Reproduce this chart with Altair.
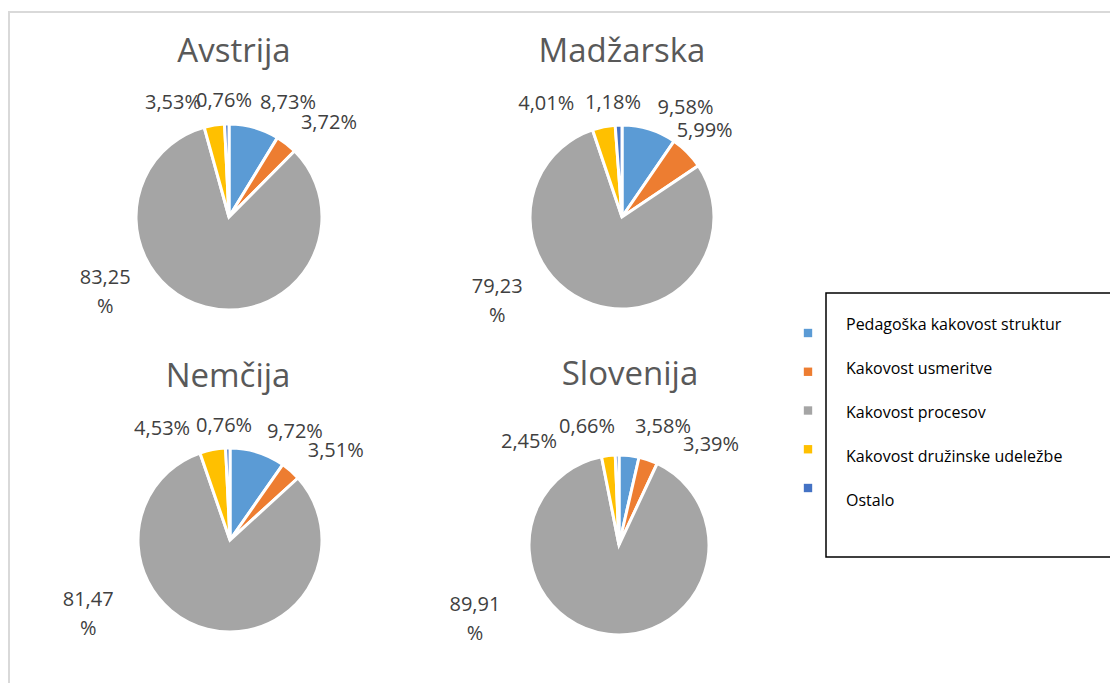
import math
import altair as alt
import pandas as pd

# ---------------- data ----------------
countries = ["Avstrija", "Madžarska", "Nemčija", "Slovenija"]
categories = [
    "Pedagoška kakovost struktur",
    "Kakovost usmeritve",
    "Kakovost procesov",
    "Kakovost družinske udeležbe",
    "Ostalo",
]
avstrija = [8.73, 3.72, 83.25, 3.53, 0.76]
madzarska = [9.58, 5.99, 79.23, 4.01, 1.18]
nemcija = [9.72, 3.51, 81.47, 4.53, 0.76]
slovenija = [3.58, 3.39, 89.91, 2.45, 0.66]
values = {"Avstrija": avstrija, "Madžarska": madzarska, "Nemčija": nemcija, "Slovenija": slovenija}

# ---------------- style / layout ----------------
colors = ["#5B9BD5", "#ED7D31", "#A5A5A5", "#FFC000", "#4472C4"]
FONT = "Open Sans"
W, H = 1102, 675
pie_center = {"Avstrija": (221, 209), "Madžarska": (614, 209), "Nemčija": (222, 532), "Slovenija": (611, 537)}
pie_radius = {"Avstrija": 93, "Madžarska": 92, "Nemčija": 92, "Slovenija": 90}
title_pos = {"Avstrija": (226, 44), "Madžarska": (614, 44), "Nemčija": (220, 369), "Slovenija": (622, 367)}
# label placement nudges (angle shift from slice middle, in degrees; distance from centre, px)
label_shift_deg = {
    "Avstrija": [11.7, 8.7, 49.1, -17.1, -1.1],
    "Madžarska": [13.0, -1.3, 42.1, -22.4, -2.4],
    "Nemčija": [13.5, 8.7, 52.8, -20.6, -1.6],
    "Slovenija": [14.0, 23.6, 60.5, -34.3, -14.0],
}
label_dist = {
    "Avstrija": [128, 137, 138, 127, 116],
    "Madžarska": [126, 119, 143, 136, 114],
    "Nemčija": [126, 138, 154, 130, 114],
    "Slovenija": [126, 136, 156, 137, 122],
}

color_scale = alt.Scale(domain=categories, range=colors)


def pie(country):
    vals = values[country]
    total = sum(vals)
    cum = 0.0
    rows = []
    for i, (c, v) in enumerate(zip(categories, vals)):
        mid = (cum + v / 2) / total * 360
        cum += v
        txt = f"{v:.2f}".replace(".", ",") + ("\n%" if v > 50 else "%")
        rows.append(dict(kat=c, idx=i, vrednost=v, lab=txt,
                         ang=(mid + label_shift_deg[country][i]) % 360,
                         dist=label_dist[country][i]))
    df = pd.DataFrame(rows)
    cx, cy = pie_center[country]
    base = alt.Chart(df)
    arcs = base.mark_arc(radius=pie_radius[country], stroke="white", strokeWidth=3).encode(
        theta=alt.Theta("vrednost:Q", stack="normalize"),
        color=alt.Color("kat:N", scale=color_scale, legend=None),
        order=alt.Order("idx:Q"),
        x=alt.value(cx),
        y=alt.value(cy),
    )
    labels = base.mark_text(font=FONT, fontSize=20, color="#404040", lineBreak="\n",
                            lineHeight=29, align="center", baseline="middle").encode(
        theta=alt.Theta("ang:Q", stack=None, scale=alt.Scale(domain=[0, 360], range=[0, 2 * math.pi])),
        radius=alt.Radius("dist:Q", scale=None),
        text="lab:N",
        x=alt.value(cx),
        y=alt.value(cy),
    )
    tx, ty = title_pos[country]
    title = alt.Chart(pd.DataFrame({"drzava": [country]})).mark_text(
        font=FONT, fontSize=33, color="#595959", align="center", baseline="middle").encode(
        text="drzava:N", x=alt.value(tx), y=alt.value(ty))
    return alt.layer(arcs, labels, title).resolve_scale(theta="independent")


one = pd.DataFrame({"a": [0]})
border_top = alt.Chart(one).mark_rule(color="#D9D9D9", strokeWidth=2).encode(
    x=alt.value(0), x2=alt.value(W), y=alt.value(4))
border_left = alt.Chart(one).mark_rule(color="#D9D9D9", strokeWidth=2).encode(
    x=alt.value(1), y=alt.value(4), y2=alt.value(H))

legend_df = pd.DataFrame({"kat": categories, "idx": list(range(len(categories)))})
legend_box = alt.Chart(one).mark_rect(fill="white", stroke="black", strokeWidth=1.5).encode(
    x=alt.value(818), x2=alt.value(1110), y=alt.value(285), y2=alt.value(549))
legend_sq = alt.Chart(legend_df).mark_square(size=70, opacity=1).encode(
    x=alt.value(800),
    y=alt.Y("kat:N", sort=categories, scale=alt.Scale(range=[325, 480], padding=0), axis=None),
    color=alt.Color("kat:N", scale=color_scale, legend=None),
)
legend_txt = alt.Chart(legend_df).mark_text(font=FONT, fontSize=16, color="#000000",
                                             align="left", baseline="middle").encode(
    x=alt.value(838),
    y=alt.Y("kat:N", sort=categories, scale=alt.Scale(range=[317, 493], padding=0), axis=None),
    text="kat:N",
)
legend = alt.layer(legend_box, legend_sq, legend_txt).resolve_scale(y="independent")

chart = alt.layer(
    border_top, border_left, *[pie(c) for c in countries], legend
).resolve_scale(theta="independent", y="independent").properties(
    width=W, height=H, padding=0, autosize=alt.AutoSizeParams(type="none")
).configure_view(strokeWidth=0)

chart.save("out.html", embed_options={"renderer": "svg", "actions": False})
